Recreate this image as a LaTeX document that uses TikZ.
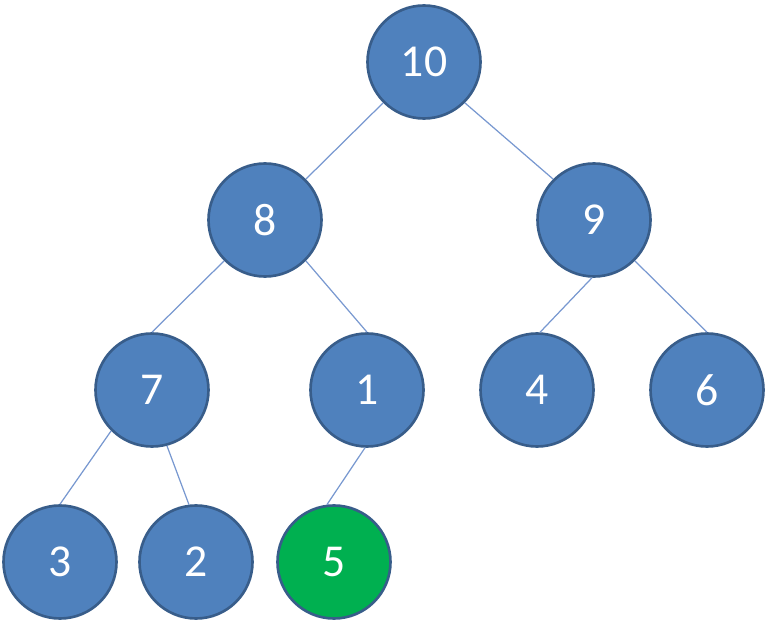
\documentclass[tikz,border=0pt]{standalone}
\usepackage{fontspec}
\setmainfont{Carlito}
\usepackage{tikz}
\definecolor{nodeblue}{RGB}{79,129,189}
\definecolor{rimblue}{RGB}{56,93,138}
\definecolor{nodegreen}{RGB}{0,176,80}
\definecolor{edgeblue}{RGB}{120,152,208}

\begin{document}
\begin{tikzpicture}[
    heapnode/.style={circle, draw=rimblue, line width=1.5pt, fill=nodeblue, minimum size=2.26cm, inner sep=0pt, text=white, font=\fontsize{26}{30}\selectfont},
    hotnode/.style={heapnode, fill=nodegreen},
    link/.style={draw=edgeblue, line width=0.7pt}]
    \useasboundingbox (0,0) rectangle (15.36,-12.42);
    % heap levels
    \node[heapnode] (n10) at (8.48,-1.24) {10};
    \node[heapnode] (n8) at (5.30,-4.40) {8};
    \node[heapnode] (n9) at (11.88,-4.40) {9};
    \node[heapnode] (n7) at (3.04,-7.80) {7};
    \node[heapnode] (n1) at (7.34,-7.80) {1};
    \node[heapnode] (n4) at (10.74,-7.80) {4};
    \node[heapnode] (n6) at (14.14,-7.80) {6};
    \node[heapnode] (n3) at (1.20,-11.24) {3};
    \node[heapnode] (n2) at (3.92,-11.24) {2};
    \node[hotnode] (n5) at (6.68,-11.24) {5};
    % links
    \draw[link] (n10.south west) -- (n8.north east);
    \draw[link] (n10.south east) -- (n9.north west);
    \draw[link] (n8.south west) -- (n7.north);
    \draw[link] (n8.south east) -- (n1.north);
    \draw[link] (n9.-92) -- (n4.87);
    \draw[link] (n9.south east) -- (n6.north);
    \draw[link] (n7.south west) -- (n3.north);
    \draw[link] (n7.-75) -- (n2.97);
    \draw[link] (n1.-92) -- (n5.97);
\end{tikzpicture}
\end{document}
